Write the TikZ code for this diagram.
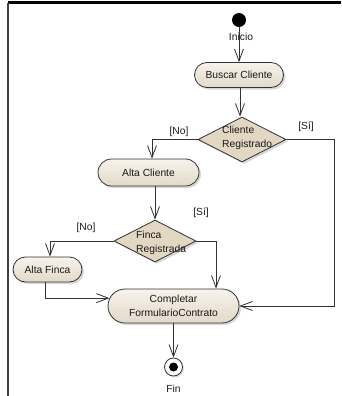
\documentclass[tikz,border=0pt]{standalone}
\usepackage{fontspec}
\setmainfont{Liberation Sans}
\usetikzlibrary{shapes.geometric,shapes.misc,arrows.meta,shadows}
\definecolor{actTop}{RGB}{247,243,235}
\definecolor{actBot}{RGB}{226,217,200}
\definecolor{decFill}{RGB}{226,215,194}
\definecolor{lineC}{RGB}{50,50,50}
\tikzset{
  txt/.style={font=\fontsize{10.3}{14}\selectfont, text=black!90, inner sep=0pt},
  act/.style={rounded rectangle, draw=lineC, line width=0.8pt, top color=actTop, bottom color=actBot,
    drop shadow={shadow xshift=2pt, shadow yshift=-2pt, fill=black!30},
    font=\fontsize{10.3}{14}\selectfont, text=black!90, align=center, inner sep=0pt},
  dec/.style={diamond, draw=lineC, line width=0.8pt, fill=decFill, inner sep=0pt,
    drop shadow={shadow xshift=2pt, shadow yshift=-2pt, fill=black!30}},
  flow/.style={draw=lineC, line width=0.8pt, -{Straight Barb[length=12pt,width=9pt,line width=0.8pt]}},
  plain/.style={draw=lineC, line width=0.8pt}
}
\begin{document}
\begin{tikzpicture}[x=1pt,y=-1pt]
\useasboundingbox (0,0) rectangle (341,396);
% frame
\draw[line width=3pt, black] (8,3) -- (341,3);
\draw[line width=1.2pt, black!75] (8,3) -- (8,396);

% nodes
\node[circle, fill=black, minimum size=14pt, inner sep=0pt] (start) at (239,20) {};
\node[txt] (inicio) at (241,37) {Inicio};
\node[act, minimum width=89pt, minimum height=25pt] (buscar) at (239,75) {Buscar Cliente};
\node[dec, minimum width=88pt, minimum height=45pt] (dec1) at (242,139.5) {};
\node[txt, align=left, anchor=west] (dec1t) at (222,138) {Cliente\\Registrado};
\node[txt] (no1) at (179,132) {[No]};
\node[txt] (si1) at (306,127) {[Sí]};
\node[act, minimum width=101pt, minimum height=27pt] (altacli) at (148.5,172.5) {Alta Cliente};
\node[dec, minimum width=82pt, minimum height=42pt] (dec2) at (155,241) {};
\node[txt, align=left, anchor=west] (dec2t) at (136,243) {Finca\\Registrada};
\node[txt] (no2) at (86,228) {[No]};
\node[txt] (si2) at (201,213) {[Sí]};
\node[act, minimum width=69pt, minimum height=25pt] (altafinca) at (47.5,269.5) {Alta Finca};
\node[act, minimum width=131pt, minimum height=34pt] (completar) at (173.5,306) {Completar\\FormularioContrato};
\node[circle, draw=lineC, line width=0.8pt, fill=white, minimum size=18pt, inner sep=0pt,
  drop shadow={shadow xshift=1.5pt, shadow yshift=-1.5pt, fill=black!25}] (fin) at (173.5,367) {};
\node[circle, fill=black, minimum size=9pt, inner sep=0pt] (fininner) at (fin.center) {};
\node[txt] (fint) at (173.5,389) {Fin};

\coordinate (rightx) at (334,0);
\coordinate (sideA) at (216,0);

% connectors
\draw[flow] (start) -- (buscar.north -| start);
\draw[flow] (buscar.south -| 240,0) -- (dec1.north -| 240,0);
\draw[flow] (dec1.west) -| ([xshift=3.5pt]altacli.north);
\draw[flow] (dec1.east) -- (dec1.east -| rightx) |- (completar.east);
\draw[flow] (dec2.north |- altacli.south) -- (dec2.north);
\draw[flow] (dec2.west) -| ([xshift=2.5pt]altafinca.north);
\draw[flow] (dec2.east) -- (dec2.east -| sideA) -- (completar.north -| sideA);
\draw[flow] ([xshift=-2.5pt]altafinca.south) |- (completar.173);
\draw[flow] (completar.south) -- (fin.north);
\end{tikzpicture}
\end{document}
